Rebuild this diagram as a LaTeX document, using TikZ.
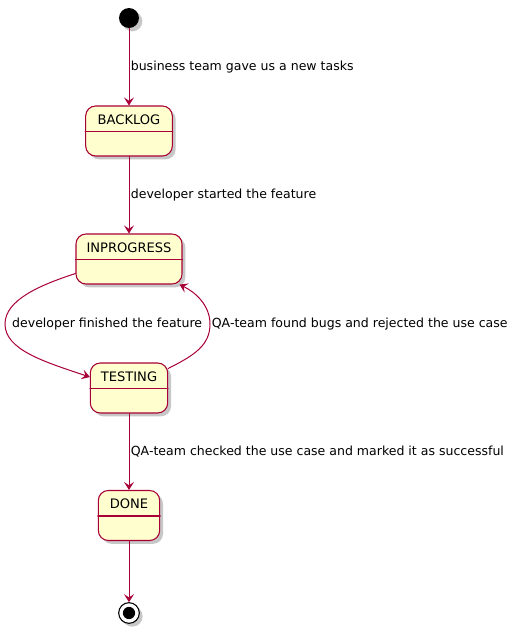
\documentclass[tikz,border=0pt]{standalone}
\usepackage{fontspec}
\setmainfont{DejaVu Sans}
\usetikzlibrary{arrows.meta,positioning,calc,shadows}
\definecolor{umlred}{HTML}{A80036}
\definecolor{umlfill}{HTML}{FEFECE}
\tikzset{
  umlshadow/.style={drop shadow={shadow xshift=2.5pt, shadow yshift=-2.5pt, fill=black, opacity=0.22}},
  statebox/.style={draw=umlred, fill=umlfill, line width=0.8pt, rounded corners=7.5pt, minimum height=37.5pt, inner sep=0pt, umlshadow},
  statename/.style={font=\fontsize{9.8}{12}\selectfont, text=black, inner sep=0pt},
  edgelabel/.style={font=\fontsize{9.4}{11}\selectfont, text=black, inner sep=1pt},
  trans/.style={umlred, line width=0.75pt, -{Stealth[length=6pt, width=7.5pt, inset=2.5pt]}},
}
\begin{document}
\begin{tikzpicture}[x=0.75pt, y=-0.75pt, line cap=round]
  \useasboundingbox (0,0) rectangle (518,632);
  % start and end
  \node[circle, fill=black, minimum size=15pt, inner sep=0pt, umlshadow] (start) at (129,18) {};
  \node[circle, draw=black, fill=white, line width=0.8pt, minimum size=15.5pt, inner sep=0pt, umlshadow] (end) at (129,613) {};
  \fill[black] (end.center) circle (4.6pt);
  % states
  \foreach \n/\t/\w/\y in {backlog/BACKLOG/65/131, inprogress/INPROGRESS/79.5/259, testing/TESTING/58/388, done/DONE/46/515.5}
    {\node[statebox, minimum width=\w pt] (\n) at (129,\y) {};
     \node[statename] (\n-name) at ($(\n.north)+(0,14)$) {\t};
     \draw[umlred, line width=0.8pt] ($(\n.north west)+(0,26)$) -- ($(\n.north east)+(0,26)$);}
  % straight transitions
  \draw[trans] (start) -- node[edgelabel, right] {business team gave us a new tasks} (backlog);
  \draw[trans] (backlog) -- node[edgelabel, right] {developer started the feature} (inprogress);
  \draw[trans] (testing) -- node[edgelabel, right] {QA-team checked the use case and marked it as successful} (done);
  \draw[trans] (done) -- (end);
  % loop between inprogress and testing
  \draw[trans] ($(inprogress.south west)+(0,-11)$) .. controls (40,285) and (5,300) .. (5,324)
    node[edgelabel, right, xshift=4pt] {developer finished the feature}
    .. controls (5,350) and (45,362) .. ($(testing.west)+(0,-11)$);
  \draw[trans] ($(testing.north east)+(0,6)$) .. controls (195,355) and (210,345) .. (210,324)
    node[edgelabel, right] {QA-team found bugs and rejected the use case}
    .. controls (210,305) and (195,292) .. ($(inprogress.south east)+(-3,0)$);
\end{tikzpicture}
\end{document}
